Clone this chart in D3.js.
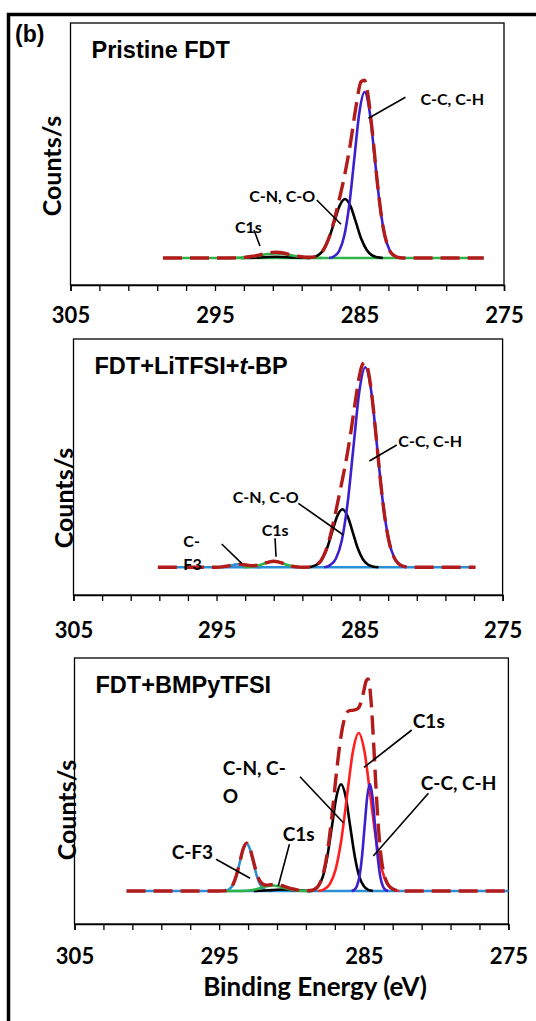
<!DOCTYPE html>
<html>
<head>
<meta charset="utf-8">
<script src="https://cdn.jsdelivr.net/npm/d3@7"></script>
<style>
  body { margin: 0; background: #fff; }
  svg { display: block; }
</style>
</head>
<body>
<div id="chart"></div>
<script>
// ---------------- Data ----------------
// binding energy (eV), intensity (arbitrary counts above the background)
const tickLabels = [305, 295, 285, 275];
const tickMarks = [305, 303, 301, 299, 297, 295, 293, 291, 289, 287, 285, 283, 281, 279, 277, 275];
const panelTitles = ['Pristine FDT', 'FDT+LiTFSI+*t*-BP', 'FDT+BMPyTFSI'];

// panel 1 - Pristine FDT
const p1Baseline = [[298.6, 0], [276.4, 0]];
const p1C1s = [[294.0,0],[293.43,0.2],[292.9,0.61],[292.38,1.46],[291.85,2.73],[291.33,3.97],[290.8,4.5],[290.28,3.97],[289.75,2.73],[289.23,1.46],[288.7,0.61],[288.18,0.2],[287.6,0]];
const p1Minor = [[293.2,0],[292.4,0.3],[291.85,0.6],[291.33,1.03],[290.8,1.2],[290.28,1.03],[289.75,0.6],[289.2,0.3],[288.4,0]];
const p1CN = [[288.63,0],[288.25,0.65],[287.88,2.6],[287.5,8.0],[287.13,19.2],[286.75,35.8],[286.38,52.1],[286.0,59],[285.63,52.1],[285.25,35.8],[284.88,19.2],[284.5,8.0],[284.13,2.6],[283.75,0.65],[283.38,0]];
const p1CC = [[287.1,0],[286.75,1.8],[286.4,7.3],[286.05,22.5],[285.7,53.9],[285.35,100.7],[285.0,146.5],[284.65,166],[284.3,146.5],[283.95,100.7],[283.6,53.9],[283.25,22.5],[282.9,7.3],[282.55,1.8],[282.2,0]];
const p1Envelope = [[298.6,0],[294.0,0],[293.43,0.2],[292.9,0.7],[292.38,1.7],[291.85,3.3],[291.33,5.0],[290.8,5.7],[290.28,5.0],[289.75,3.3],[289.23,1.7],[288.7,0.8],[288.25,0.9],[287.88,2.7],[287.5,8.0],[287.13,19.5],[286.75,37.6],[286.38,59.9],[286.0,84.9],[285.63,114.4],[285.25,150.8],[284.88,176.5],[284.65,177.7],[284.5,170.2],[284.13,128.6],[283.75,73.3],[283.38,32],[283.0,10.3],[282.6,2.3],[282.2,0.3],[281.8,0],[276.4,0]];

// panel 2 - FDT+LiTFSI+t-BP
const p2Baseline = [[299.1, 0], [276.9, 0]];
const p2CF3 = [[294.9,0],[294.6,0.4],[294.3,0.97],[294.0,1.8],[293.7,2.65],[293.4,3],[293.1,2.65],[292.8,1.8],[292.5,0.97],[292.2,0.4],[291.9,0]];
const p2C1s = [[293.1,0],[292.75,0.26],[292.4,0.8],[292.05,1.95],[291.7,3.6],[291.35,5.3],[291.0,6],[290.65,5.3],[290.3,3.6],[289.95,1.95],[289.6,0.8],[289.25,0.26],[288.9,0]];
const p2CN = [[288.72,0],[288.36,0.6],[288.0,2.5],[287.64,7.8],[287.28,18.8],[286.92,35.2],[286.56,51.2],[286.2,58],[285.84,51.2],[285.48,35.2],[285.12,18.8],[284.76,7.8],[284.4,2.5],[284.04,0.6],[283.68,0]];
const p2CC = [[287.47,0],[287.06,2.2],[286.65,8.8],[286.24,27.1],[285.83,64.9],[285.42,121.3],[285.01,176.5],[284.6,200],[284.19,176.5],[283.78,121.3],[283.37,64.9],[282.96,27.1],[282.55,8.8],[282.14,2.2],[281.73,0]];
const p2Envelope = [[299.1,0],[295.0,0],[294.6,0.4],[294.3,1.0],[294.0,1.8],[293.7,2.65],[293.4,3.0],[293.1,2.7],[292.8,2.0],[292.5,1.6],[292.2,1.8],[291.9,2.6],[291.6,4.2],[291.3,5.5],[291.0,6.0],[290.7,5.5],[290.4,4.2],[290.1,2.6],[289.8,1.4],[289.5,0.6],[289.2,0.2],[288.9,0.1],[288.6,0.2],[288.3,0.8],[288.0,2.6],[287.7,6.6],[287.4,15.1],[287.1,28.5],[286.8,46.5],[286.5,66.9],[286.2,87.8],[285.9,110.1],[285.6,136.1],[285.3,165.5],[285.0,192.1],[284.8,202.9],[284.6,204.9],[284.4,196.7],[284.1,166.9],[283.8,124.5],[283.5,81.3],[283.2,46.6],[282.9,23.3],[282.6,10.2],[282.3,3.9],[282.0,1.3],[281.6,0.3],[281.2,0],[276.9,0]];

// panel 3 - FDT+BMPyTFSI
const p3Baseline = [[301.4, 0], [275.0, 0]];
const p3CF3 = [[294.75,0],[294.51,0.5],[294.28,2.1],[294.04,6.4],[293.81,15.4],[293.57,28.8],[293.34,41.9],[293.1,47.5],[292.87,41.9],[292.63,28.8],[292.4,15.4],[292.16,6.4],[291.92,2.1],[291.69,0.5],[291.45,0]];
const p3C1sMinor = [[294.6,0],[293.55,0.06],[293.18,0.24],[292.8,0.74],[292.43,1.79],[292.05,3.34],[291.68,4.85],[291.3,5.5],[290.93,4.85],[290.55,3.34],[290.18,1.79],[289.8,0.74],[289.43,0.24],[289.05,0.06],[288.7,0]];
const p3Minor = [[292.6,0],[292.2,0.2],[291.8,0.5],[291.4,0.9],[291.0,1.32],[290.6,1.5],[290.2,1.32],[289.8,0.9],[289.4,0.5],[289.0,0.2],[288.6,0]];
const p3CN = [[288.78,0],[288.46,1.2],[288.15,4.7],[287.83,14.4],[287.52,34.6],[287.2,64.7],[286.89,94.2],[286.57,106.7],[286.25,94.2],[285.94,64.7],[285.62,34.6],[285.31,14.4],[284.99,4.7],[284.68,1.2],[284.36,0]];
const p3C1s = [[288.15,0],[287.75,1.7],[287.35,6.9],[286.95,21.4],[286.55,51.3],[286.15,95.8],[285.75,139.4],[285.35,158],[284.95,139.4],[284.55,95.8],[284.15,51.3],[283.75,21.4],[283.35,6.9],[282.95,1.7],[282.55,0]];
const p3CC = [[285.84,0],[285.66,1.2],[285.48,4.7],[285.3,14.5],[285.12,34.7],[284.94,64.9],[284.76,94.4],[284.58,107],[284.4,94.4],[284.22,64.9],[284.04,34.7],[283.86,14.5],[283.68,4.7],[283.5,1.2],[283.32,0]];
const p3Envelope = [[301.4,0],[295.0,0],[294.75,0.1],[294.51,0.5],[294.28,2.1],[294.04,6.4],[293.81,15.4],[293.57,28.9],[293.34,42.0],[293.1,47.8],[292.87,42.5],[292.63,29.9],[292.4,17.4],[292.16,9.5],[291.92,6.4],[291.69,5.9],[291.45,6.3],[291.2,6.6],[290.95,6.3],[290.7,5.5],[290.45,4.4],[290.2,3.2],[289.9,2.0],[289.6,1.1],[289.3,0.6],[289.0,0.3],[288.7,0.45],[288.4,1.7],[288.1,6.0],[287.8,17.3],[287.5,40.1],[287.2,75.4],[286.9,116.7],[286.6,152.3],[286.3,173.9],[286.0,180.4],[285.7,180.8],[285.4,182.5],[285.2,188.1],[285.0,199.9],[284.85,209.4],[284.7,212.0],[284.58,203.2],[284.45,181],[284.3,143.1],[284.15,101.8],[284.0,66.0],[283.8,33.7],[283.6,16.8],[283.4,8.4],[283.2,4.2],[283.0,2.1],[282.7,0.64],[282.3,0.1],[282.0,0],[275.0,0]];

// peak labels: text lines anchored at (energy, counts), leader from (e1,v1) to (e2,v2)
const p1Notes = [
  { lines: ['C-C, C-H'], e: 280.78, v: 153, leader: [281.82, 160.7, 284.38, 139.7] },
  { lines: ['C-N, C-O'], e: 292.63, v: 56.3, leader: [287.96, 58, 286.28, 33.7] },
  { lines: ['C1s'], e: 293.62, v: 25.3, leader: [292.3, 28, 291.89, 12] }
];
const p2Notes = [
  { lines: ['C-C, C-H'], e: 282.29, v: 120.6, leader: [282.4, 122.3, 284.31, 106.3] },
  { lines: ['C-N, C-O'], e: 293.87, v: 64.6, leader: [289.28, 64, 286.13, 32.3] },
  { lines: ['C1s'], e: 291.84, v: 31.6, leader: [290.91, 29, 290.84, 10.6] },
  { lines: ['C-', 'F3'], e: 297.32, v: 20.6, leader: [294.64, 23.3, 293.24, 4] }
];
const p3Notes = [
  { lines: ['C1s'], e: 281.61, v: 162.7, leader: [281.68, 161, 284.98, 123.7] },
  { lines: ['C-C, C-H'], e: 281.06, v: 101, leader: [280.53, 97.7, 284.34, 35] },
  { lines: ['C-N, C-', 'O'], e: 294.75, v: 116, leader: [289.41, 114.3, 286.41, 68.3] },
  { lines: ['C1s'], e: 290.6, v: 50, leader: [290.14, 46.7, 290.91, 5] },
  { lines: ['C-F3'], e: 298.28, v: 31.7, leader: [295.21, 31.7, 292.86, 12.7] }
];

// ---------------- Styles / layout ----------------
const colors = {
  envelope: '#b31b1b',
  blue: '#3d1fd0',
  green: '#2db34a',
  lightBlue: '#2b8fd6',
  red: '#ff1f1f',
  black: '#000'
};

const panels = [
  {
    title: panelTitles[0], left: 70.5, right: 504, top: 23, axisY: 285, yDomain: [-27, 235],
    labelY: 38, yLabel: [61, 166], noteSize: 16,
    series: [
      { data: p1Baseline, color: colors.green },
      { data: p1Minor, color: colors.black },
      { data: p1C1s, color: colors.green },
      { data: p1CN, color: colors.black },
      { data: p1CC, color: colors.blue }
    ],
    envelope: p1Envelope, notes: p1Notes
  },
  {
    title: panelTitles[1], left: 73.5, right: 502.6, top: 339, axisY: 595, yDomain: [-27.7, 228.3],
    labelY: 43, yLabel: [73, 498], noteSize: 16,
    series: [
      { data: p2Baseline, color: colors.lightBlue },
      { data: p2CF3, color: colors.lightBlue },
      { data: p2C1s, color: colors.green },
      { data: p2CN, color: colors.black },
      { data: p2CC, color: colors.blue }
    ],
    envelope: p2Envelope, notes: p2Notes
  },
  {
    title: panelTitles[2], left: 74.5, right: 508.4, top: 658, axisY: 924, yDomain: [-33, 233],
    labelY: 40, yLabel: [76, 810], noteSize: 19,
    series: [
      { data: p3Baseline, color: colors.lightBlue },
      { data: p3CF3, color: colors.lightBlue },
      { data: p3Minor, color: colors.black },
      { data: p3C1sMinor, color: colors.green },
      { data: p3CN, color: colors.black },
      { data: p3C1s, color: colors.red },
      { data: p3CC, color: colors.blue }
    ],
    envelope: p3Envelope, notes: p3Notes
  }
];

const sansFont = 'Lato, "Open sans", sans-serif';
const titleFont = '"Liberation Sans", Arial, sans-serif';

// ---------------- Draw ----------------
const svg = d3.select('#chart')
  .append('svg')
  .attr('width', 536)
  .attr('height', 1021);

// outer frame (top and left only)
svg.append('path')
  .attr('d', 'M536,14.5H8.5V1021')
  .attr('fill', 'none')
  .attr('stroke', '#000')
  .attr('stroke-width', 3.5);

svg.append('text')
  .attr('x', 15)
  .attr('y', 41.5)
  .attr('font-family', titleFont)
  .attr('font-weight', 700)
  .attr('font-size', 23)
  .text('(b)');

panels.forEach((p, i) => {
  const xScale = d3.scaleLinear().domain([305, 275]).range([p.left, p.right]);
  const yScale = d3.scaleLinear().domain(p.yDomain).range([p.axisY, p.top]);
  const line = d3.line()
    .x(d => xScale(d[0]))
    .y(d => yScale(d[1]))
    .curve(d3.curveMonotoneX);

  const g = svg.append('g');

  // plot frame
  g.append('rect')
    .attr('x', p.left)
    .attr('y', p.top)
    .attr('width', p.right - p.left)
    .attr('height', p.axisY - p.top)
    .attr('fill', 'none')
    .attr('stroke', '#000')
    .attr('stroke-width', 1.3);

  // x axis
  const xAxis = d3.axisBottom(xScale)
    .tickValues(tickMarks)
    .tickSize(6)
    .tickFormat(d => tickLabels.includes(d) ? d : '');
  const axisGroup = g.append('g')
    .attr('transform', `translate(0,${p.axisY})`)
    .call(xAxis);
  axisGroup.select('.domain').attr('stroke-width', 1.5);
  axisGroup.selectAll('.tick line').attr('stroke-width', 1.3);
  axisGroup.selectAll('.tick text')
    .attr('y', p.labelY)
    .attr('dy', 0)
    .attr('fill', '#000')
    .attr('font-family', sansFont)
    .attr('font-weight', 700)
    .attr('font-size', 22);

  // fitted components
  g.selectAll('path.comp')
    .data(p.series)
    .join('path')
    .attr('class', 'comp')
    .attr('d', d => line(d.data))
    .attr('fill', 'none')
    .attr('stroke', d => d.color)
    .attr('stroke-width', 2.6);

  // envelope (dashed)
  g.append('path')
    .attr('d', line(p.envelope))
    .attr('fill', 'none')
    .attr('stroke', colors.envelope)
    .attr('stroke-width', 3.4)
    .attr('stroke-dasharray', '19,8');

  // title
  const title = g.append('text')
    .attr('x', p.left + 21)
    .attr('y', p.top + 34.5)
    .attr('font-family', titleFont)
    .attr('font-weight', 700)
    .attr('font-size', 23.5);
  p.title.split('*').forEach((part, k) => {
    title.append('tspan')
      .attr('font-style', k % 2 ? 'italic' : 'normal')
      .text(part);
  });

  // y label
  g.append('text')
    .attr('transform', `translate(${p.yLabel[0]},${p.yLabel[1]}) rotate(-90)`)
    .attr('text-anchor', 'middle')
    .attr('font-family', sansFont)
    .attr('font-weight', 700)
    .attr('font-size', 25)
    .text('Counts/s');

  // peak labels
  p.notes.forEach(n => {
    g.append('line')
      .attr('x1', xScale(n.leader[0]))
      .attr('y1', yScale(n.leader[1]))
      .attr('x2', xScale(n.leader[2]))
      .attr('y2', yScale(n.leader[3]))
      .attr('stroke', '#000')
      .attr('stroke-width', 1.6);
    const t = g.append('text')
      .attr('font-family', sansFont)
      .attr('font-weight', 700)
      .attr('font-size', p.noteSize);
    n.lines.forEach((ln, k) => {
      t.append('tspan')
        .attr('x', xScale(n.e))
        .attr('y', yScale(n.v) + k * p.noteSize * 1.45)
        .text(ln);
    });
  });

  if (i === panels.length - 1) {
    g.append('text')
      .attr('x', 315)
      .attr('y', p.axisY + 72)
      .attr('text-anchor', 'middle')
      .attr('font-family', sansFont)
      .attr('font-weight', 700)
      .attr('font-size', 26)
      .text('Binding Energy (eV)');
  }
});
</script>
</body>
</html>
